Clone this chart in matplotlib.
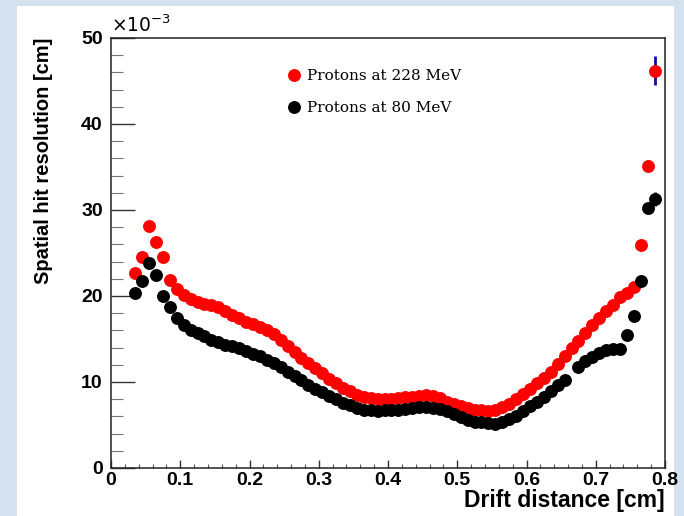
import numpy as np
import matplotlib
matplotlib.use("Agg")
import matplotlib.pyplot as plt
from matplotlib.patches import Rectangle
from matplotlib.ticker import MultipleLocator

# Bin centres of the drift-distance histogram [cm]
drift = [0.035 + 0.01 * i for i in range(76)]

# Spatial hit resolution [1e-3 cm], protons at 228 MeV
res_228 = [22.7, 24.5, 28.1, 26.3, 24.5, 21.9, 20.8, 20.1, 19.6, 19.3,
           19.1, 18.9, 18.7, 18.3, 17.8, 17.4, 17.0, 16.7, 16.4, 16.1,
           15.6, 14.9, 14.2, 13.5, 12.8, 12.2, 11.6, 11.0, 10.4, 9.9,
           9.3, 8.9, 8.5, 8.3, 8.1, 8.0, 8.0, 8.0, 8.1, 8.2,
           8.3, 8.4, 8.5, 8.4, 8.1, 7.7, 7.4, 7.2, 7.0, 6.8,
           6.7, 6.6, 6.8, 7.1, 7.4, 8.0, 8.6, 9.2, 9.9, 10.5,
           11.2, 12.1, 13.0, 13.9, 14.8, 15.7, 16.6, 17.4, 18.3, 19.0,
           19.9, 20.4, 21.1, 25.9, 35.1, 46.2]

# Spatial hit resolution [1e-3 cm], protons at 80 MeV (empty bin at 0.665)
res_80 = [20.3, 21.7, 23.8, 22.5, 20.0, 18.7, 17.4, 16.6, 16.1, 15.7,
          15.3, 14.9, 14.6, 14.3, 14.2, 13.9, 13.6, 13.3, 13.0, 12.6,
          12.2, 11.7, 11.2, 10.7, 10.2, 9.7, 9.2, 8.8, 8.4, 8.0,
          7.6, 7.3, 7.0, 6.8, 6.7, 6.6, 6.7, 6.7, 6.8, 6.9,
          7.0, 7.1, 7.1, 7.0, 6.9, 6.6, 6.3, 5.9, 5.6, 5.4,
          5.3, 5.2, 5.1, 5.3, 5.7, 6.1, 6.6, 7.2, 7.7, 8.2,
          9.0, 9.6, 10.2, np.nan, 11.8, 12.4, 12.9, 13.4, 13.7, 13.8,
          13.8, 15.5, 17.7, 21.8, 30.2, 31.3]

# Visible statistical errors on the last bins [1e-3 cm]
err_x = [0.785]
err_228 = [1.7]
err_80 = [0.8]

labels = ["Protons at 228 MeV", "Protons at 80 MeV"]

W, H = 684, 516
fig = plt.figure(figsize=(W / 100, H / 100), dpi=100)
fig.patch.set_facecolor("#d4e1ef")
fig.add_artist(Rectangle((17 / W, 0), (674 - 17) / W, (H - 6) / H,
                         transform=fig.transFigure, facecolor="white",
                         edgecolor="none", zorder=0))

ax = fig.add_axes([111 / W, (H - 468) / H, (665 - 111) / W, (468 - 38) / H])
ax.set_facecolor("white")

x = np.array(drift)
y228 = np.array(res_228) * 1e-3
y80 = np.array(res_80) * 1e-3

MS = 9.3
ax.errorbar(err_x, np.array([res_228[-1]]) * 1e-3, yerr=np.array(err_228) * 1e-3,
            fmt="none", ecolor="#10109a", elinewidth=2, zorder=2)
ax.plot(x, y228, "o", color="#ff0000", markersize=MS, markeredgewidth=0,
        label=labels[0], zorder=3)
ax.errorbar(err_x, np.array([res_80[-1]]) * 1e-3, yerr=np.array(err_80) * 1e-3,
            fmt="none", ecolor="#10109a", elinewidth=2, zorder=4)
ax.plot(x, y80, "o", color="#000000", markersize=MS, markeredgewidth=0,
        label=labels[1], zorder=5)

ax.set_xlim(0, 0.8)
ax.set_ylim(0, 0.05)

ax.xaxis.set_minor_locator(MultipleLocator(0.02))
ax.yaxis.set_minor_locator(MultipleLocator(0.002))

ax.set_xticks(np.arange(0, 0.81, 0.1))
ax.set_xticklabels(["0", "0.1", "0.2", "0.3", "0.4", "0.5", "0.6", "0.7", "0.8"])
ax.set_yticks(np.arange(0, 0.051, 0.01))
ax.set_yticklabels(["0", "10", "20", "30", "40", "50"])

for lab in ax.get_xticklabels() + ax.get_yticklabels():
    lab.set_fontfamily("Liberation Sans")
    lab.set_fontweight("bold")
    lab.set_fontsize(14)

ax.tick_params(axis="x", which="major", direction="in", length=5.8, width=1,
               pad=3, color="#333333")
ax.tick_params(axis="x", which="minor", direction="in", length=2.9, width=0.8,
               color="#555555")
ax.tick_params(axis="y", which="major", direction="in", length=17, width=1,
               pad=6, color="#333333")
ax.tick_params(axis="y", which="minor", direction="in", length=8.6, width=0.8,
               color="#777777")

for sp in ax.spines.values():
    sp.set_linewidth(1.1)
    sp.set_color("#222222")

ax.set_xlabel("Drift distance [cm]", fontfamily="Liberation Sans",
              fontweight="bold", fontsize=16.5, loc="right", labelpad=0)
ax.set_ylabel("Spatial hit resolution [cm]", fontfamily="Liberation Sans",
              fontweight="bold", fontsize=14.5, loc="top", labelpad=20)

ax.text(0.0, 1.004, r"$\times10^{-3}$", transform=ax.transAxes,
        ha="left", va="bottom", fontsize=13.5, fontfamily="Liberation Sans")

leg = ax.legend(loc="upper left", bbox_to_anchor=(289 / W, (H - 69) / H),
                bbox_transform=fig.transFigure, frameon=False,
                prop=dict(family="DejaVu Serif", size=11),
                handlelength=0.6, handletextpad=0.6, labelspacing=1.2,
                borderpad=0, borderaxespad=0)

fig.savefig("out.png", dpi=100, facecolor=fig.get_facecolor())
